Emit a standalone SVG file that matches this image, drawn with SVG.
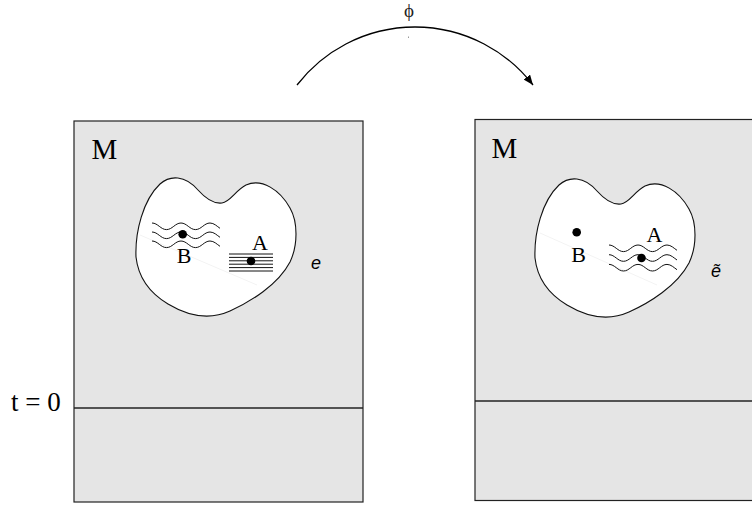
<svg xmlns="http://www.w3.org/2000/svg" xmlns:xlink="http://www.w3.org/1999/xlink" width="752" height="505" viewBox="0 0 752 505">
  <style>
    .box { fill: #e5e5e5; stroke: #222; stroke-width: 1.2; }
    .sep { stroke: #222; stroke-width: 1.3; fill: none; }
    .blob { fill: #ffffff; stroke: #111; stroke-width: 1.1; }
    .wave { fill: none; stroke: #111; stroke-width: 1; }
    .hline { stroke: #111; stroke-width: 1; }
    .faint { stroke: #f3f3f3; stroke-width: 1; fill: none; }
    .dot { fill: #000; }
    .serif { font-family: "Liberation Serif", "Times New Roman", serif; fill: #000; }
    .lbl { font-size: 22px; text-anchor: middle; }
    .big { font-size: 29px; }
    .it { font-family: "Liberation Sans", Arial, sans-serif; font-style: italic; font-size: 18px; fill: #000; }
    .arc { fill: none; stroke: #000; stroke-width: 1.3; }
  </style>
  <defs>
    <path id="blobShape" d="M136,257 C135,232 143,200 160,184 C170,175 185,175 198,190 C206,199 214,204 222,203 C230,202 236,190 246,185 C262,178 280,190 290,208 C298,222 298,245 290,262 C278,285 250,302 230,311 C210,320 188,316 168,304 C148,292 138,275 136,257 Z"/>
    <path id="waveShape" d="M0,-3.3 C5.8,-3.3 8.7,3.3 14.5,3.3 C20.3,3.3 23.2,-3.3 29,-3.3 C34.8,-3.3 37.7,3.3 43.5,3.3 C49.3,3.3 52.2,-3.3 58,-3.3 C62,-3.3 65,0 68,2"/>
    <marker id="arrow" viewBox="0 0 10 8" refX="10" refY="4" markerWidth="10" markerHeight="8" markerUnits="userSpaceOnUse" orient="auto">
      <path d="M0,0 L10,4 L0,8 Z" fill="#000"/>
    </marker>
  </defs>

  <g id="left-panel">
    <rect class="box" x="74" y="121" width="289" height="381"/>
    <line class="sep" x1="74" y1="408" x2="363" y2="408"/>
    <text class="serif big" x="91.5" y="159">M</text>
    <g id="left-region">
      <use xlink:href="#blobShape" class="blob"/>
      <line class="faint" x1="140" y1="235" x2="257" y2="285"/>
      <use xlink:href="#waveShape" class="wave" transform="translate(152,226.3)"/>
      <use xlink:href="#waveShape" class="wave" transform="translate(152,235.3)"/>
      <use xlink:href="#waveShape" class="wave" transform="translate(152,244.3)"/>
      <line class="hline" x1="229" y1="254" x2="273" y2="254"/>
      <line class="hline" x1="229" y1="257.4" x2="273" y2="257.4"/>
      <line class="hline" x1="229" y1="260.8" x2="273" y2="260.8"/>
      <line class="hline" x1="229" y1="264.2" x2="273" y2="264.2"/>
      <line class="hline" x1="229" y1="267.6" x2="273" y2="267.6"/>
      <line class="hline" x1="229" y1="271" x2="273" y2="271"/>
      <circle class="dot" cx="182.7" cy="234.3" r="4.3"/>
      <circle class="dot" cx="251" cy="261" r="4.3"/>
      <text class="serif lbl" x="184" y="263">B</text>
      <text class="serif lbl" x="260" y="250">A</text>
    </g>
    <text class="it" x="311" y="269">e</text>
    <text class="serif" x="11" y="411" font-size="27">t = 0</text>
  </g>

  <g id="right-panel">
    <rect class="box" x="475" y="119.5" width="290" height="381"/>
    <line class="sep" x1="475" y1="401" x2="765" y2="401"/>
    <text class="serif big" x="491.5" y="158">M</text>
    <g id="right-region">
      <use xlink:href="#blobShape" class="blob" transform="translate(399,1)"/>
      <line class="faint" x1="540" y1="233" x2="657" y2="285"/>
      <use xlink:href="#waveShape" class="wave" transform="translate(609,248.3)"/>
      <use xlink:href="#waveShape" class="wave" transform="translate(609,258)"/>
      <use xlink:href="#waveShape" class="wave" transform="translate(609,267.7)"/>
      <circle class="dot" cx="576.7" cy="232.3" r="4.3"/>
      <circle class="dot" cx="641.5" cy="258" r="4.3"/>
      <text class="serif lbl" x="578.5" y="262">B</text>
      <text class="serif lbl" x="654.5" y="242">A</text>
    </g>
    <text class="it" x="711" y="277">ẽ</text>
  </g>

  <g id="connectors">
    <path class="arc" d="M297,85 A149,149 0 0 1 533,85" marker-end="url(#arrow)"/>
    <text x="409" y="17" font-size="19" text-anchor="middle" fill="#222" font-family="'Liberation Serif', 'DejaVu Serif', serif">ϕ</text>
    <rect x="408" y="36.5" width="1" height="1.5" fill="#999"/>
  </g>
</svg>
